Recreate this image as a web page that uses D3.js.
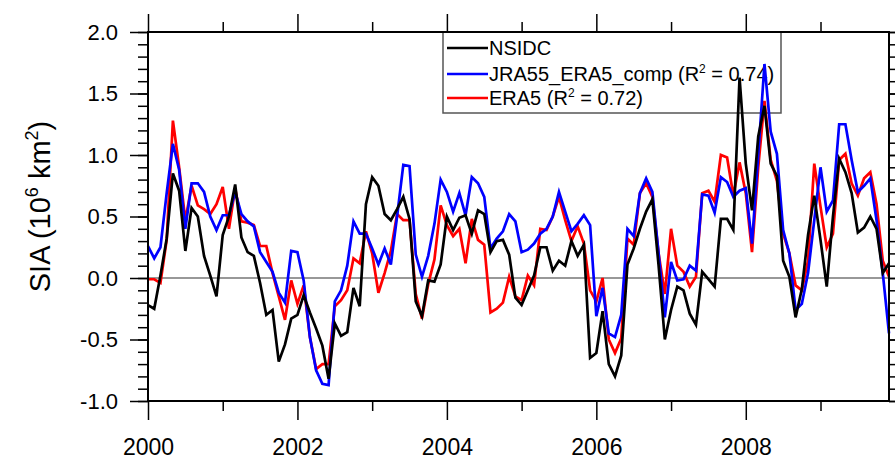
<!DOCTYPE html>
<html>
<head>
<meta charset="utf-8">
<script src="https://cdn.jsdelivr.net/npm/d3@7"></script>
<style>
  html, body { margin: 0; padding: 0; background: #fff; }
  svg { display: block; font-family: "Liberation Sans", Arial, sans-serif; }
</style>
</head>
<body>
<div id="chart"></div>
<script>
// monthly SIA anomalies, Jan 2000 .. Dec 2009 (10^6 km^2)
const START_YEAR = 2000;

const NSIDC = [
  -0.22, -0.25, 0.02, 0.32, 0.85, 0.71, 0.22, 0.57, 0.50, 0.18, 0.02, -0.15,
  0.35, 0.50, 0.76, 0.33, 0.21, 0.18, -0.04, -0.30, -0.26, -0.68, -0.54, -0.33,
  -0.30, -0.14, -0.28, -0.41, -0.55, -0.82, -0.37, -0.47, -0.44, -0.08, -0.23, 0.60,
  0.82, 0.75, 0.52, 0.47, 0.56, 0.66, 0.48, -0.19, -0.31, -0.02, -0.03, 0.11,
  0.50, 0.39, 0.49, 0.51, 0.36, 0.55, 0.52, 0.21, 0.30, 0.31, 0.19, -0.16,
  -0.22, -0.10, 0.02, 0.25, 0.25, 0.06, 0.14, 0.10, 0.30, 0.18, 0.27, -0.65,
  -0.61, -0.27, -0.70, -0.80, -0.63, 0.11, 0.24, 0.40, 0.54, 0.64, 0.10, -0.50,
  -0.26, -0.07, -0.10, -0.29, -0.38, 0.05, -0.01, -0.07, 0.48, 0.48, 0.39, 1.63,
  0.93, 0.55, 1.15, 1.40, 0.93, 0.83, 0.14, 0.01, -0.32, -0.09, 0.35, 0.67,
  0.31, -0.07, 0.50, 0.97, 0.86, 0.69, 0.37, 0.41, 0.50, 0.40, 0.04, 0.12
];

const JRA55_ERA5 = [
  0.26, 0.16, 0.25, 0.69, 1.09, 0.88, 0.40, 0.77, 0.77, 0.70, 0.50, 0.39,
  0.51, 0.51, 0.70, 0.52, 0.46, 0.42, 0.21, 0.13, 0.05, -0.12, -0.20, 0.22,
  0.21, -0.02, -0.48, -0.75, -0.86, -0.87, -0.19, -0.10, 0.10, 0.46, 0.36, 0.36,
  0.24, 0.11, 0.24, 0.11, 0.50, 0.92, 0.91, 0.19, 0.01, 0.18, 0.44, 0.80,
  0.70, 0.54, 0.69, 0.51, 0.82, 0.77, 0.66, 0.24, 0.32, 0.38, 0.52, 0.46,
  0.21, 0.23, 0.28, 0.36, 0.40, 0.50, 0.70, 0.54, 0.38, 0.44, 0.51, 0.43,
  -0.31, -0.08, -0.45, -0.48, -0.30, 0.40, 0.34, 0.69, 0.81, 0.70, 0.20, -0.32,
  0.13, -0.02, -0.01, 0.10, 0.06, 0.68, 0.67, 0.53, 0.82, 0.78, 0.66, 0.71,
  0.73, 0.28, 1.00, 1.74, 1.19, 1.01, 0.39, 0.20, -0.26, -0.21, 0.04, 0.47,
  0.90, 0.54, 0.63, 1.25, 1.25, 0.96, 0.70, 0.75, 0.81, 0.47, 0.04, -0.45
];

const ERA5 = [
  -0.01, -0.01, -0.04, 0.31, 1.28, 0.90, 0.47, 0.75, 0.59, 0.56, 0.52, 0.60,
  0.74, 0.40, 0.73, 0.46, 0.45, 0.43, 0.26, 0.26, 0.04, -0.15, -0.34, -0.02,
  -0.21, -0.06, -0.48, -0.74, -0.70, -0.70, -0.23, -0.18, -0.10, 0.16, 0.12, 0.38,
  0.20, -0.12, 0.04, 0.22, 0.52, 0.47, 0.47, -0.13, -0.33, -0.05, 0.15, 0.59,
  0.43, 0.34, 0.40, 0.12, 0.48, 0.31, 0.27, -0.28, -0.25, -0.20, 0.01, -0.15,
  -0.18, 0.02, -0.06, 0.40, 0.39, 0.50, 0.66, 0.47, 0.30, 0.42, 0.28, -0.10,
  -0.19, 0.00, -0.50, -0.61, -0.49, 0.32, 0.27, 0.69, 0.77, 0.66, 0.20, -0.13,
  0.40, 0.10, 0.05, -0.07, 0.01, 0.69, 0.71, 0.62, 1.00, 0.98, 0.67, 0.94,
  0.69, 0.21, 0.90, 1.44, 0.96, 0.79, 0.36, 0.20, -0.06, -0.10, 0.14, 0.93,
  0.58, 0.25, 0.36, 0.96, 1.01, 0.77, 0.67, 0.81, 0.86, 0.60, 0.14, 0.01
];

const X_LABEL_YEARS = [2000, 2002, 2004, 2006, 2008];
const X_MINOR_YEARS = [2001, 2003, 2005, 2007, 2009];
const Y_MAJOR = [-1.0, -0.5, 0.0, 0.5, 1.0, 1.5, 2.0];
const Y_MINOR = d3.range(-10, 21).map(v => v / 10);

const SERIES = [
  { name: 'NSIDC',            r2: null,   values: NSIDC,      color: '#000000' },
  { name: 'JRA55_ERA5_comp',  r2: '0.74', values: JRA55_ERA5, color: '#0000ff' },
  { name: 'ERA5',             r2: '0.72', values: ERA5,       color: '#ff0000' },
];

// — Layout ————————————————————————————————————————————————
const WIDTH = 895, HEIGHT = 459;
const M = { left: 148, right: 6, top: 32, bottom: 58 };
const X0 = M.left, X1 = WIDTH - M.right, Y0 = M.top, Y1 = HEIGHT - M.bottom;

const svg = d3.select('#chart').append('svg')
  .attr('width', WIDTH).attr('height', HEIGHT);

const nMonths = NSIDC.length;
const x = d3.scaleLinear()
  .domain([START_YEAR, START_YEAR + (nMonths - 1) / 12])
  .range([X0, X1]);
const y = d3.scaleLinear().domain([-1, 2]).range([Y1, Y0]);

const fmt = d => d.toFixed(1);

// — Axes ————————————————————————————————————————————————
function addAxis(axis, tx, ty, fontSize) {
  const g = svg.append('g')
    .attr('transform', `translate(${tx},${ty})`)
    .call(axis);
  g.select('.domain').remove();
  g.selectAll('.tick line').attr('stroke', '#000').attr('stroke-width', 1.5);
  g.selectAll('text').attr('font-size', fontSize).attr('fill', '#000')
    .attr('font-family', '"Liberation Sans", Arial, sans-serif');
  return g;
}

// bottom
addAxis(d3.axisBottom(x).tickValues(X_LABEL_YEARS).tickSize(19).tickPadding(19)
  .tickFormat(d3.format('d')), 0, Y1, 23);
addAxis(d3.axisBottom(x).tickValues(X_MINOR_YEARS).tickSize(10).tickFormat(''), 0, Y1, 0);
// top
addAxis(d3.axisTop(x).tickValues(X_LABEL_YEARS).tickSize(18).tickFormat(''), 0, Y0, 0);
addAxis(d3.axisTop(x).tickValues(X_MINOR_YEARS).tickSize(10).tickFormat(''), 0, Y0, 0);
// left
addAxis(d3.axisLeft(y).tickValues(Y_MAJOR).tickSize(18).tickPadding(12)
  .tickFormat(fmt), X0, 0, 22);
addAxis(d3.axisLeft(y).tickValues(Y_MINOR).tickSize(10).tickFormat(''), X0, 0, 0);
// right
addAxis(d3.axisRight(y).tickValues(Y_MAJOR).tickSize(18).tickFormat(''), X1, 0, 0);
addAxis(d3.axisRight(y).tickValues(Y_MINOR).tickSize(10).tickFormat(''), X1, 0, 0);

// zero reference line
svg.append('line')
  .attr('x1', X0).attr('x2', X1)
  .attr('y1', y(0)).attr('y2', y(0))
  .attr('stroke', '#333').attr('stroke-width', 1.2);

// y title
const title = svg.append('text')
  .attr('transform', `translate(50,${(Y0 + Y1) / 2 - 10}) rotate(-90)`)
  .attr('text-anchor', 'middle')
  .attr('font-size', 29)
  .attr('fill', '#000');
title.append('tspan').text('SIA (10');
title.append('tspan').attr('font-size', 18).attr('dy', -12).text('6');
title.append('tspan').attr('dy', 12).text(' km');
title.append('tspan').attr('font-size', 18).attr('dy', -12).text('2');
title.append('tspan').attr('dy', 12).text(')');

// — Legend (drawn under the lines) ——————————————————————————
const LEG = { x: 443, y: 32, w: 338, h: 81, rows: [48, 74, 98] };
svg.append('rect')
  .attr('x', LEG.x).attr('y', LEG.y)
  .attr('width', LEG.w).attr('height', LEG.h)
  .attr('fill', '#fff').attr('stroke', '#555').attr('stroke-width', 1.5);

SERIES.forEach((s, i) => {
  const ry = LEG.rows[i];
  svg.append('line')
    .attr('x1', 447).attr('x2', 488).attr('y1', ry).attr('y2', ry)
    .attr('stroke', s.color).attr('stroke-width', 2.5);
  const t = svg.append('text')
    .attr('x', 489).attr('y', ry).attr('dy', '0.36em')
    .attr('font-size', 20).attr('fill', '#000');
  if (s.r2 === null) {
    t.text(s.name);
  } else {
    t.append('tspan').text(`${s.name} (R`);
    t.append('tspan').attr('font-size', 12).attr('dy', -8).text('2');
    t.append('tspan').attr('dy', 8).text(` = ${s.r2})`);
  }
});

// — Lines ————————————————————————————————————————————————
const line = d3.line()
  .x((d, i) => x(START_YEAR + i / 12))
  .y(d => y(d));

[SERIES[2], SERIES[1], SERIES[0]].forEach(s => {
  svg.append('path')
    .datum(s.values)
    .attr('d', line)
    .attr('fill', 'none')
    .attr('stroke', s.color)
    .attr('stroke-width', 2.7)
    .attr('stroke-linejoin', 'miter');
});

// plot frame
svg.append('rect')
  .attr('x', X0).attr('y', Y0)
  .attr('width', X1 - X0).attr('height', Y1 - Y0)
  .attr('fill', 'none').attr('stroke', '#000').attr('stroke-width', 2);
</script>
</body>
</html>
